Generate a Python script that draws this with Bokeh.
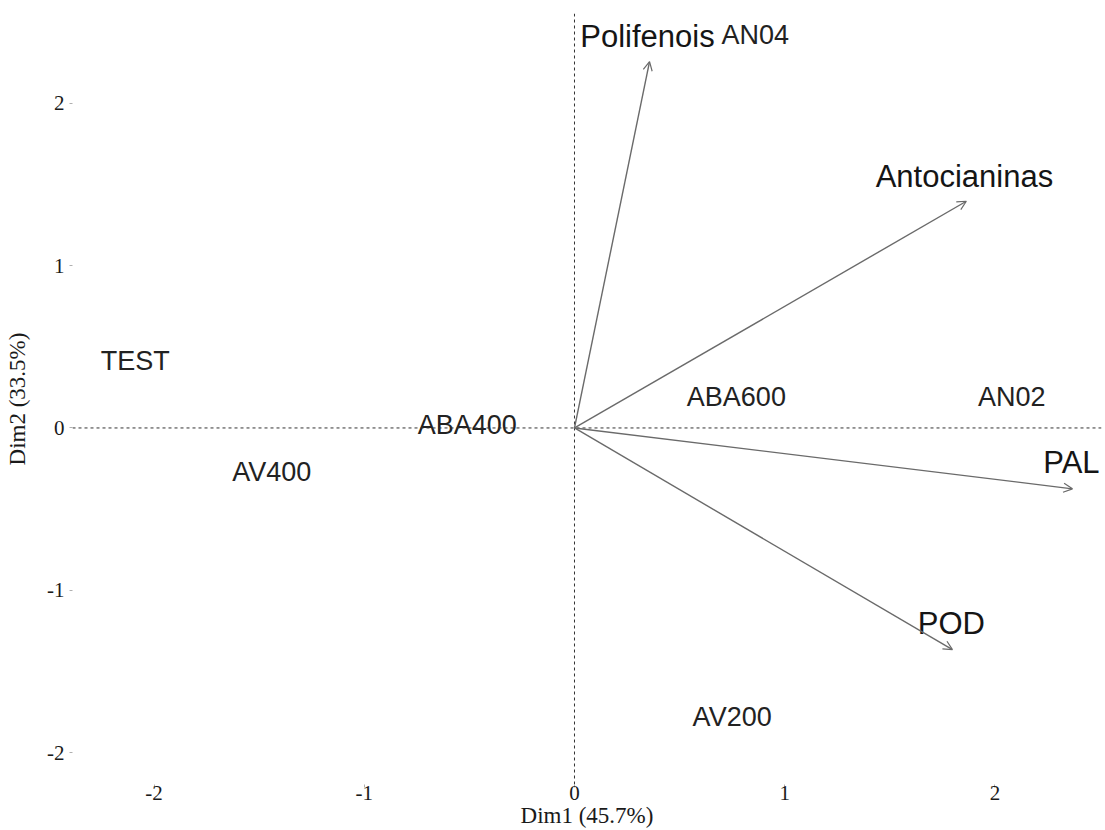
from bokeh.plotting import figure
from bokeh.models import ColumnDataSource, Span, Arrow, OpenHead, Range1d, FixedTicker
from bokeh.core.properties import value
from bokeh.embed import file_html
from bokeh.resources import INLINE

# Individuals (label positions on the biplot)
ind_names = ["TEST", "AV400", "ABA400", "ABA600", "AN02", "AN04", "AV200"]
ind_x = [-2.09, -1.44, -0.51, 0.77, 2.08, 0.86, 0.75]
ind_y = [0.41, -0.27, 0.02, 0.19, 0.19, 2.42, -1.78]

# Variables (arrow tips and label positions)
var_names = ["Polifenois", "Antocianinas", "PAL", "POD"]
var_x = [0.357, 1.864, 2.369, 1.798]
var_y = [2.258, 1.397, -0.375, -1.366]
var_lab_x = [0.347, 1.855, 2.364, 1.793]
var_lab_y = [2.41, 1.55, -0.215, -1.206]

x_ticks = [-2, -1, 0, 1, 2]
y_ticks = [-2, -1, 0, 1, 2]
tick_text = {-2: "-2", -1: "-1", 0: "0", 1: "1", 2: "2"}
x_label = "Dim1 (45.7%)"
y_label = "Dim2 (33.5%)"

p = figure(width=1103, height=830, output_backend="svg", toolbar_location=None,
           x_range=Range1d(-2.388, 2.507), y_range=Range1d(-2.197, 2.554),
           min_border_left=72, min_border_right=2, min_border_top=13, min_border_bottom=0)
p.outline_line_color = None
p.grid.visible = False
p.background_fill_color = "white"
p.border_fill_color = "white"

for ax, lab in ((p.xaxis, x_label), (p.yaxis, y_label)):
    ax.axis_label = lab
    ax.axis_line_color = None
    ax.major_tick_line_color = "#b0b0b0"
    ax.major_tick_out = 3
    ax.major_tick_in = 0
    ax.minor_tick_line_color = None
    ax.major_label_text_font = "Liberation Serif"
    ax.major_label_text_font_size = "21px"
    ax.major_label_text_color = "#1a1a1a"
    ax.major_label_overrides = tick_text
    ax.axis_label_text_font = "Liberation Serif"
    ax.axis_label_text_font_size = "23px"
    ax.axis_label_text_font_style = "normal"
    ax.axis_label_text_color = "#1a1a1a"
p.xaxis.ticker = FixedTicker(ticks=x_ticks)
p.yaxis.ticker = FixedTicker(ticks=y_ticks)
p.xaxis.major_label_standoff = -2
p.xaxis.axis_label_standoff = 0
p.yaxis.major_label_standoff = 5
p.yaxis.axis_label_standoff = 14
p.yaxis.major_label_orientation = "horizontal"

p.add_layout(Span(location=0, dimension="width", line_color="#333333", line_dash="3 3", line_width=1))
p.add_layout(Span(location=0, dimension="height", line_color="#333333", line_dash="3 3", line_width=1))

vsrc = ColumnDataSource(dict(x0=[0] * len(var_x), y0=[0] * len(var_y), x1=var_x, y1=var_y,
                             lx=var_lab_x, ly=var_lab_y, name=var_names))
p.add_layout(Arrow(end=OpenHead(size=9, line_color="#6a6a6a", line_width=1.2),
                   x_start="x0", y_start="y0", x_end="x1", y_end="y1",
                   line_color="#6a6a6a", line_width=1.4, source=vsrc))
p.text(x="lx", y="ly", text="name", source=vsrc, text_align="center", text_baseline="middle",
       text_font=value("Liberation Sans"), text_font_size="31px", text_color="#151515")

isrc = ColumnDataSource(dict(x=ind_x, y=ind_y, name=ind_names))
p.text(x="x", y="y", text="name", source=isrc, text_align="center", text_baseline="middle",
       text_font=value("Liberation Sans"), text_font_size="27px", text_color="#222222")

open("out.html", "w").write(file_html(p, INLINE))
